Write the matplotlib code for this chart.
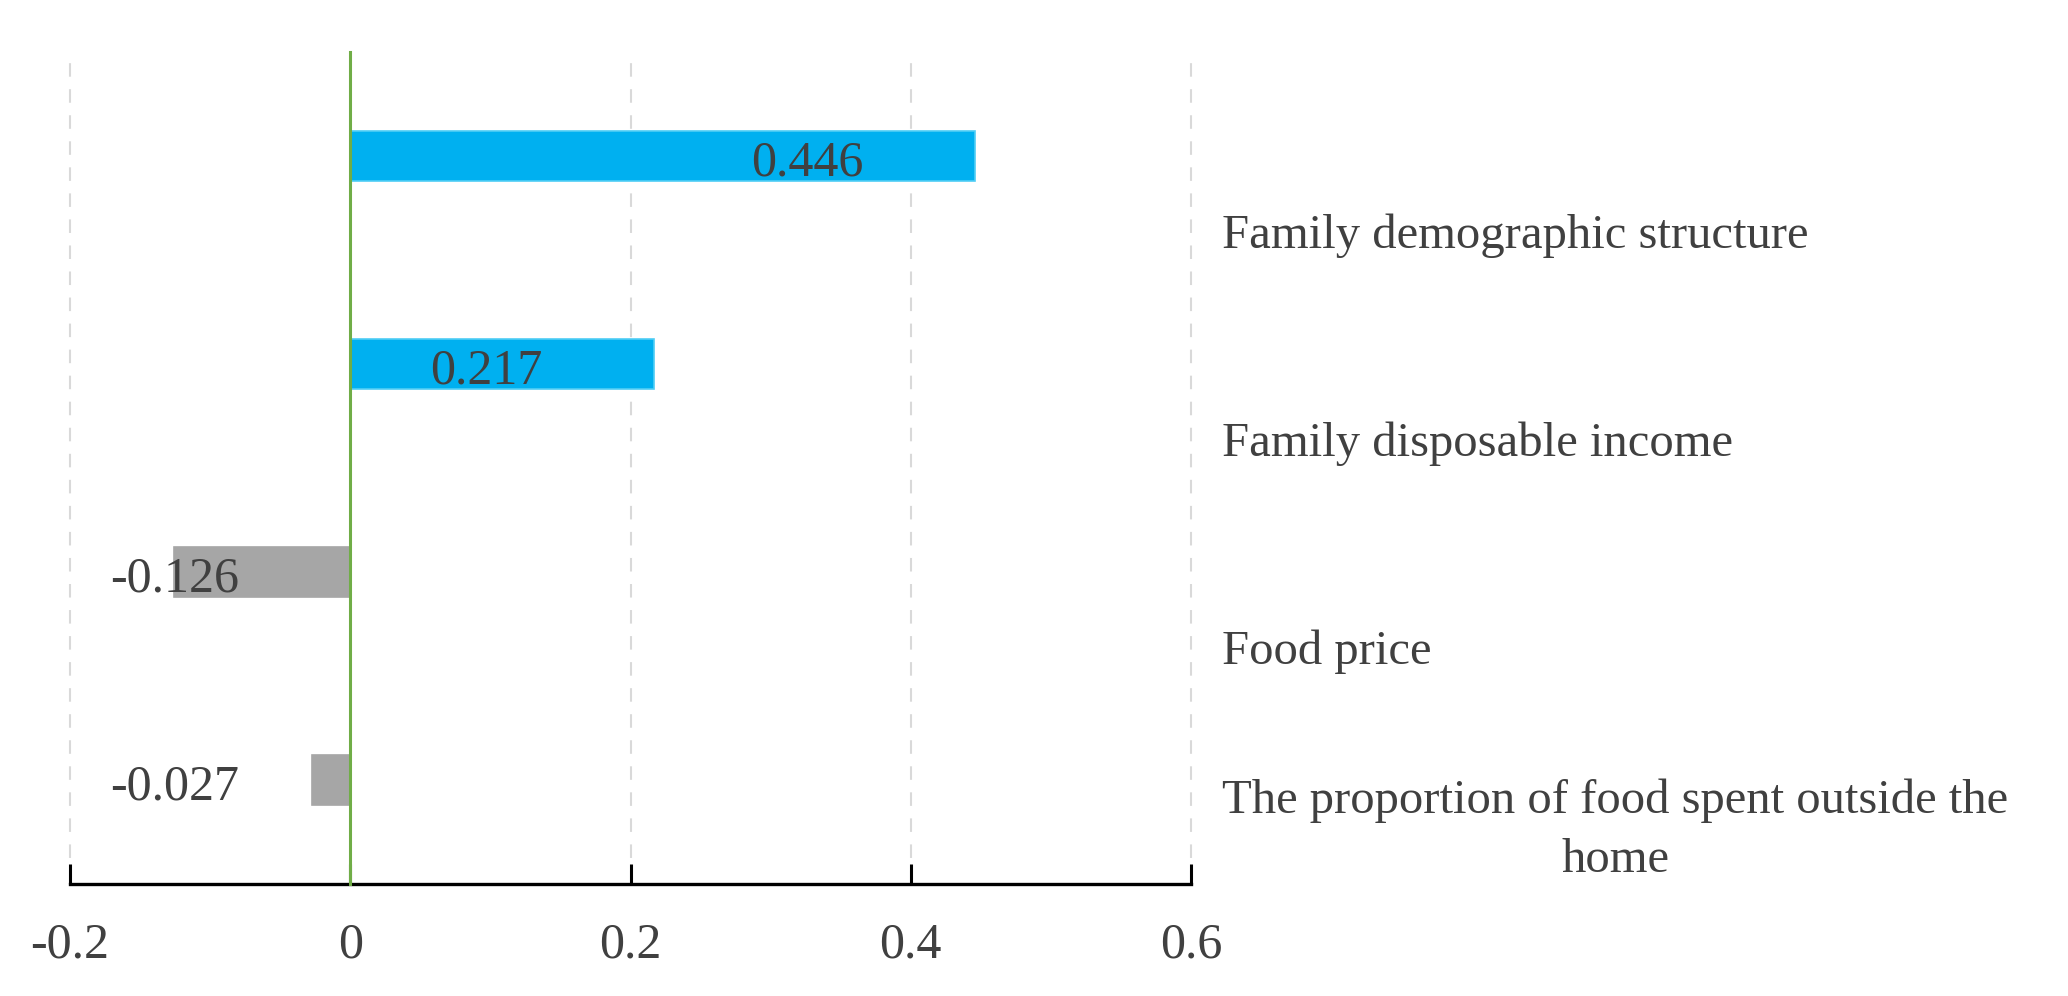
import matplotlib.pyplot as plt
from matplotlib.transforms import blended_transform_factory

categories = [
    "Family demographic structure",
    "Family disposable income",
    "Food price",
    "The proportion of food spent outside the\nhome",
]
values = [0.446, 0.217, -0.126, -0.027]
xticks = [-0.2, 0, 0.2, 0.4, 0.6]
xtick_labels = ["-0.2", "0", "0.2", "0.4", "0.6"]

plt.rcParams["font.family"] = ["Liberation Serif", "DejaVu Serif"]
TEXT = "#404040"

fig = plt.figure(figsize=(20.68, 9.96), dpi=100)
ax = fig.add_axes([70 / 2068, 112 / 996, (1191 - 70) / 2068, (884 - 52) / 996])

pos = list(range(len(values)))
colors = ["#00B0F0" if v >= 0 else "#A6A6A6" for v in values]
edges = ["#4FCDF5" if v >= 0 else "#A6A6A6" for v in values]
ax.barh(pos, values, height=0.24, color=colors, edgecolor=edges, linewidth=1.2, zorder=3)

ax.set_xlim(-0.2, 0.6)
ax.set_ylim(len(values) - 0.5, -0.5)

# dashed vertical grid, the zero line is drawn green instead
for t in xticks:
    if t == 0:
        continue
    ax.axvline(t, color="#D9D9D9", lw=1.5, ls=(0, (6.5, 6)), zorder=1, clip_on=False)
ax.axvline(0, color="#70AD47", lw=2.2, zorder=4, clip_on=False)

for s in ["left", "right", "top"]:
    ax.spines[s].set_visible(False)
ax.spines["bottom"].set_linewidth(2.4)
ax.spines["bottom"].set_color("black")
ax.set_yticks([])
ax.set_xticks(xticks)
ax.set_xticklabels(xtick_labels)
ax.tick_params(axis="x", direction="in", length=14.5, width=2.2, pad=27,
               labelsize=36, labelcolor=TEXT, color="black")

# value labels
for i, v in enumerate(values):
    if v >= 0:
        ax.text(v - 0.08, i + 0.035, f"{v:.3f}", ha="right", va="center",
                fontsize=36, color=TEXT, zorder=5)
    else:
        ax.text(-0.125, i + 0.035, f"{v:.3f}", ha="center", va="center",
                fontsize=36, color=TEXT, zorder=5)

# category labels on the right, bottom-aligned under each bar
tr = blended_transform_factory(fig.transFigure, ax.transData)
for i, c in enumerate(categories):
    ax.text(1222 / 2068, i + 0.49, c, transform=tr, ha="left", va="bottom",
            multialignment="center", linespacing=1.45, fontsize=35,
            color=TEXT, clip_on=False)

fig.savefig("out.png", dpi=100)
